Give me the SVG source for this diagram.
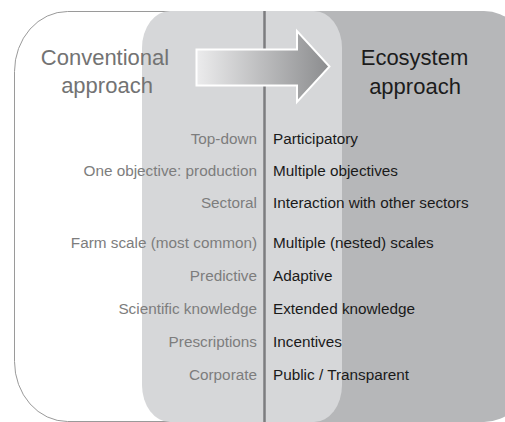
<svg xmlns="http://www.w3.org/2000/svg" width="505" height="422" viewBox="0 0 505 422">
<defs>
<linearGradient id="ag" x1="196" y1="0" x2="330" y2="0" gradientUnits="userSpaceOnUse">
<stop offset="0" stop-color="#ececed"/>
<stop offset="1" stop-color="#8b8c8e"/>
</linearGradient>
<style>
.t{font-family:"Liberation Sans",Arial,sans-serif}
.title{font-size:22px}
.lt{font-size:15.3px;fill:#7d7d7d;text-anchor:end}
.rt{font-size:15.3px;fill:#1a1a1a}
</style>
</defs>
<rect width="505" height="422" fill="#ffffff"/>
<g id="conventional-panel">
<rect x="14.5" y="11.5" width="320" height="410" rx="53" ry="60" fill="#ffffff" stroke="#9a9a9a" stroke-width="1"/>
</g>
<g id="ecosystem-panel">
<rect x="200" y="11" width="326" height="411" rx="42" ry="42" fill="#b6b7b9"/>
</g>
<g id="overlap-panel">
<rect x="142" y="11" width="200" height="411" rx="28" ry="37" fill="#d6d7d9"/>
</g>
<g id="connectors">
<line x1="264.5" y1="11" x2="264.5" y2="422" stroke="#7c7d7f" stroke-width="2.5"/>
<polygon points="196.5,49.5 297,49.5 297,31 329.5,66.5 297,102 297,85.5 196.5,85.5" fill="url(#ag)" stroke="#ffffff" stroke-width="2" stroke-linejoin="miter"/>
</g>
<g id="conventional-title" class="t title" fill="#737373" text-anchor="middle">
<text x="105" y="65">Conventional</text>
<text x="107" y="93">approach</text>
</g>
<g id="ecosystem-title" class="t title" fill="#1c1c1c" text-anchor="middle">
<text x="414.5" y="65">Ecosystem</text>
<text x="415" y="94">approach</text>
</g>
<g id="conventional-items" class="t">
<text class="lt" x="257" y="144">Top-down</text>
<text class="lt" x="257" y="176">One objective: production</text>
<text class="lt" x="257" y="208">Sectoral</text>
<text class="lt" x="257" y="248">Farm scale (most common)</text>
<text class="lt" x="257" y="281">Predictive</text>
<text class="lt" x="257" y="314">Scientific knowledge</text>
<text class="lt" x="257" y="347">Prescriptions</text>
<text class="lt" x="257" y="380">Corporate</text>
</g>
<g id="ecosystem-items" class="t">
<text class="rt" x="273" y="144">Participatory</text>
<text class="rt" x="273" y="176">Multiple objectives</text>
<text class="rt" x="273" y="208">Interaction with other sectors</text>
<text class="rt" x="273" y="248">Multiple (nested) scales</text>
<text class="rt" x="273" y="281">Adaptive</text>
<text class="rt" x="273" y="314">Extended knowledge</text>
<text class="rt" x="273" y="347">Incentives</text>
<text class="rt" x="273" y="380">Public / Transparent</text>
</g>
</svg>
